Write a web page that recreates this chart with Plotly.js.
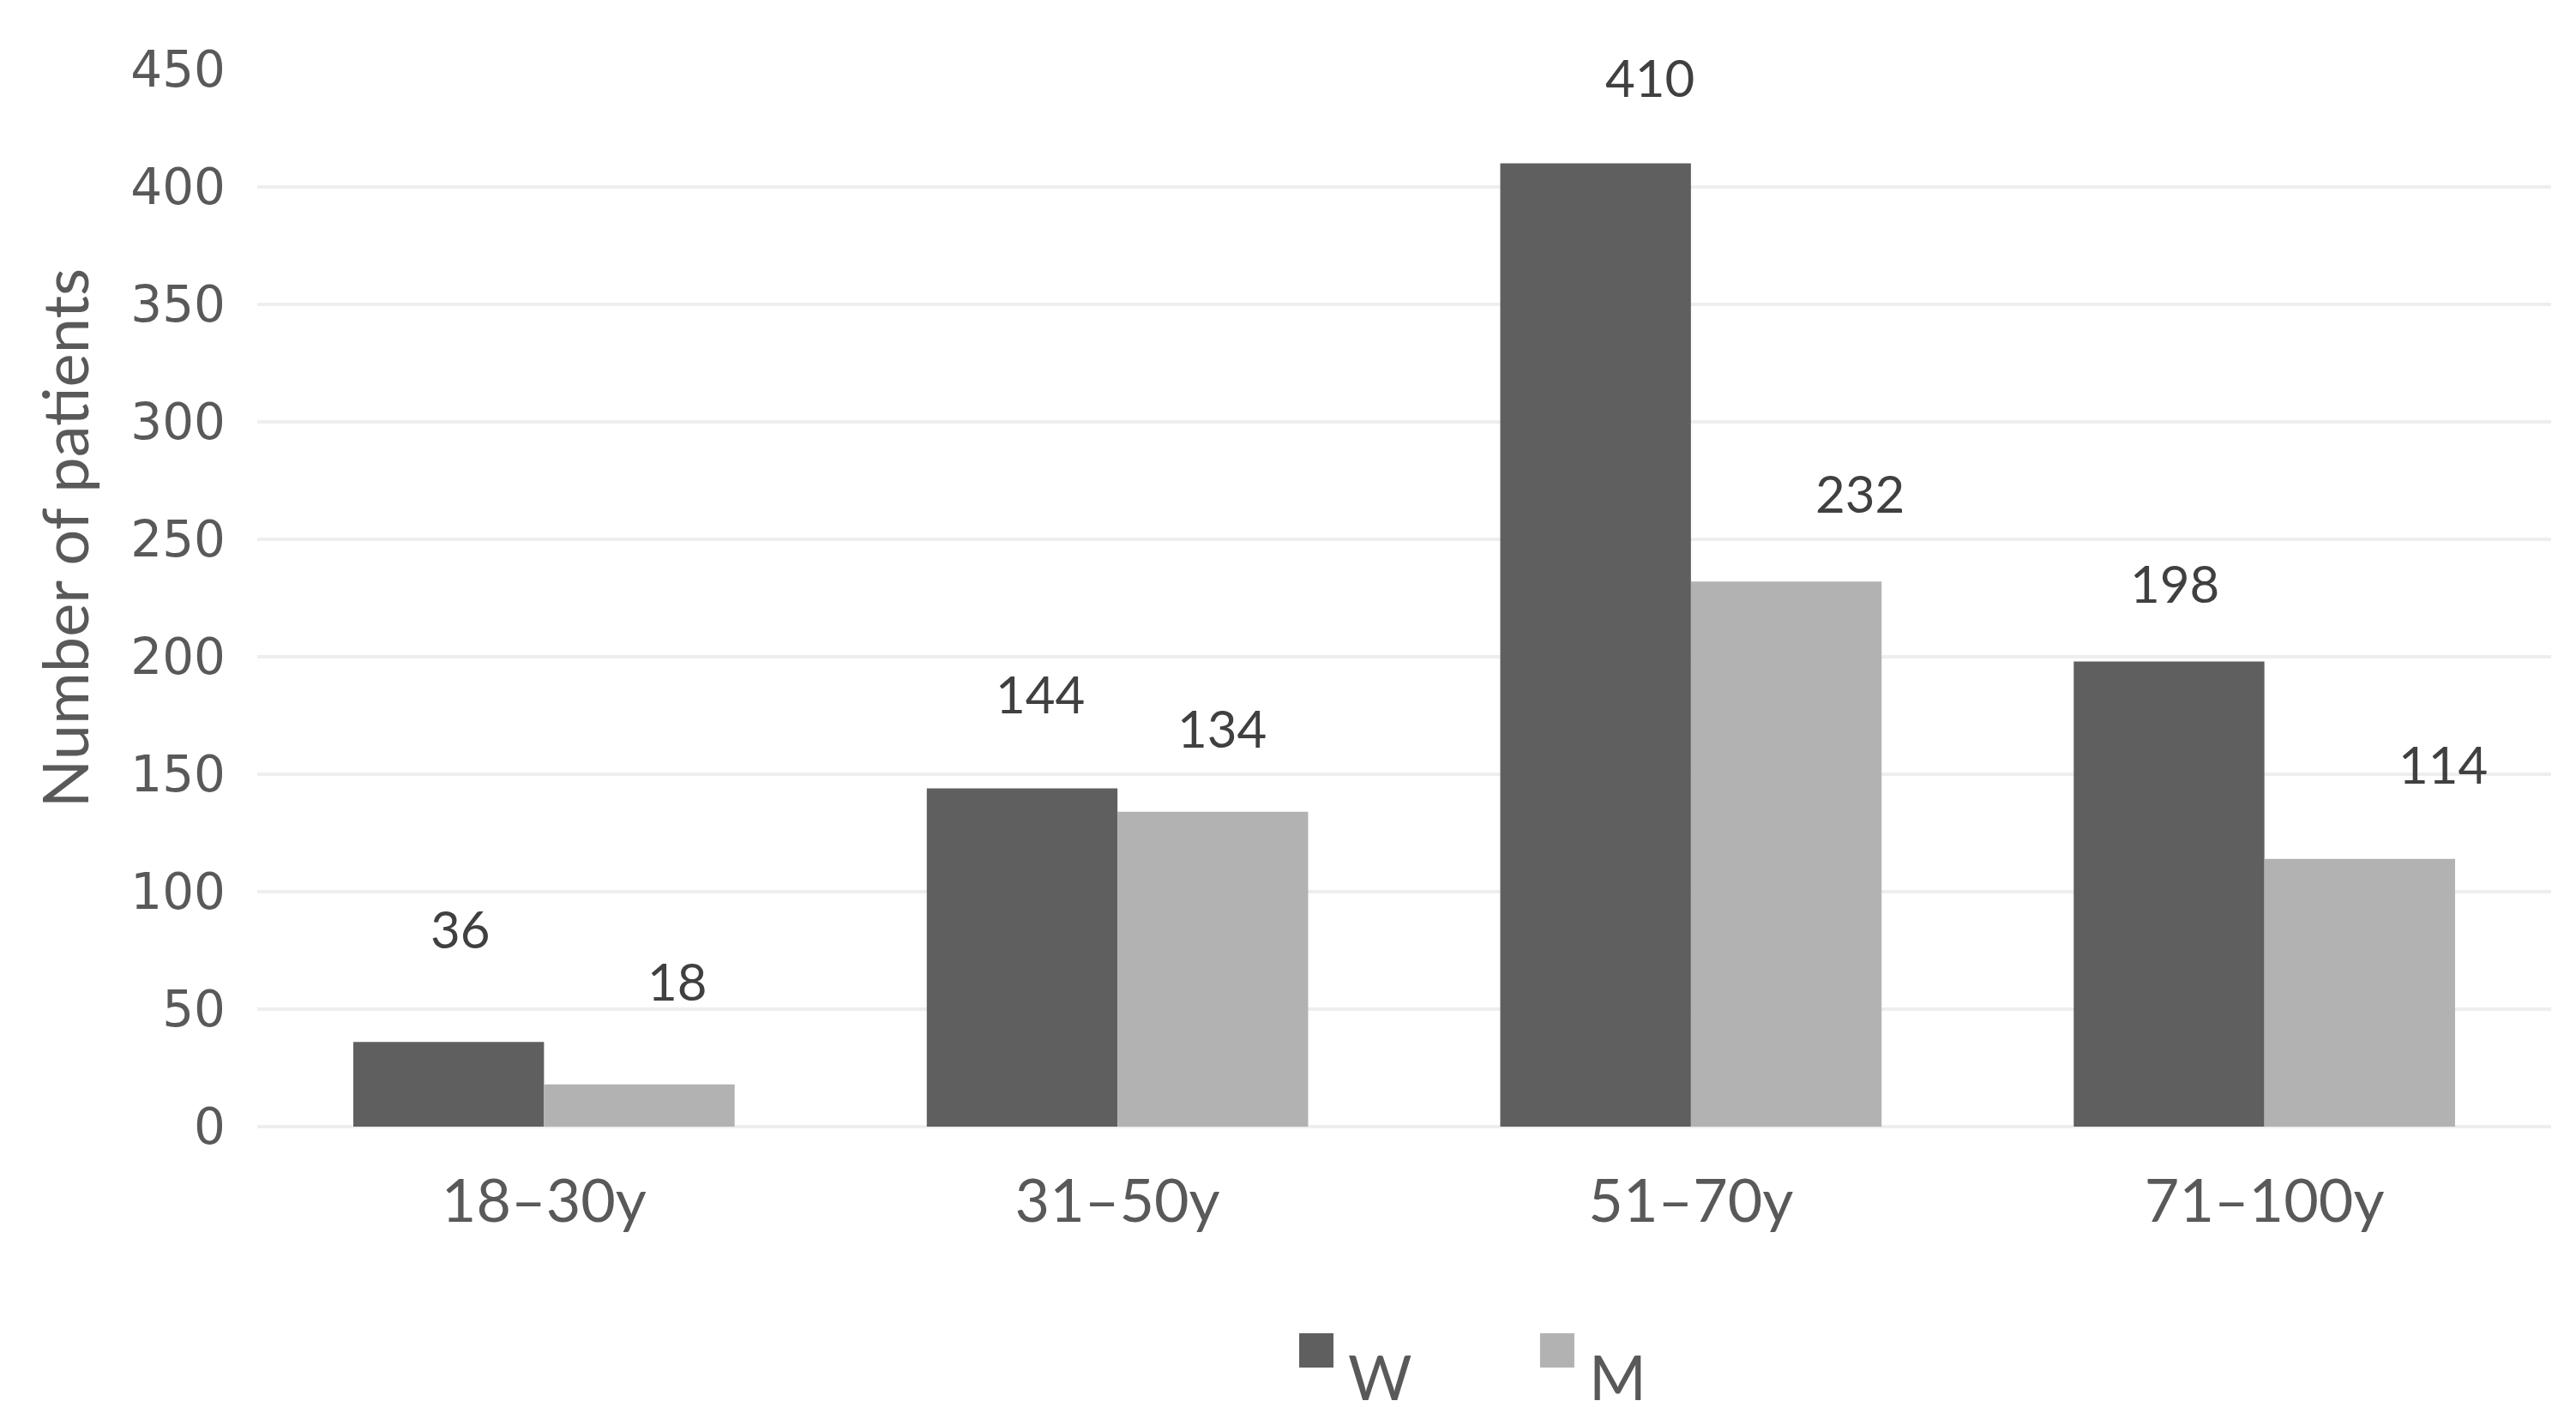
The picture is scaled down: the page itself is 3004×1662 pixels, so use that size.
<!DOCTYPE html>
<html>
<head>
<meta charset="utf-8">
<script src="https://cdn.plot.ly/plotly-3.0.1.min.js"></script>
<style>html,body{margin:0;padding:0;background:#fff;}#chart{width:3004px;height:1662px;}</style>
</head>
<body>
<div id="chart"></div>
<script>
// ---- data ----
const categories = ["18\u201330y", "31\u201350y", "51\u201370y", "71\u2013100y"];
const seriesNames = ["W", "M"];
const womenValues = [36, 144, 410, 198];
const menValues = [18, 134, 232, 114];
const yTickValues = [0, 50, 100, 150, 200, 250, 300, 350, 400, 450];

// ---- styling (layout only) ----
const colors = ["#5f5f5f", "#b2b2b2"];
const textGray = "#595959";
const bargap = 0.335;
const halfBar = (1 - bargap) / 4;   // centre offset of each bar within a category
// hand-placed label nudges seen in the original (pixels)
const labelNudgeX = [[14, 21, 63, 7], [44, 11, 86, 97]];
const labelNudgeY = [[132, 110, 101, 91], [121, 98, 103, 111]];

const allValues = [womenValues, menValues];

const traces = allValues.map((vals, s) => ({
  type: "bar",
  name: seriesNames[s],
  x: categories,
  y: vals,
  marker: { color: colors[s], line: { width: 0 } },
  showlegend: false,
  hoverinfo: "x+y+name"
}));

const annotations = [];
allValues.forEach((vals, s) => {
  vals.forEach((v, i) => {
    annotations.push({
      x: i + (s === 0 ? -halfBar : halfBar),
      y: v,
      xref: "x", yref: "y",
      text: String(v),
      showarrow: false,
      xanchor: "center", yanchor: "middle",
      xshift: labelNudgeX[s][i],
      yshift: labelNudgeY[s][i],
      font: { family: "Lato, 'Open Sans', sans-serif", size: 60, color: "#404040" }
    });
  });
});

// y-axis title (placed as in the original, slightly above centre)
annotations.push({
  xref: "paper", yref: "paper",
  x: -0.0845, y: 0.557,
  text: "Number of patients",
  textangle: -90,
  showarrow: false,
  xanchor: "center", yanchor: "middle",
  font: { family: "Lato, 'Open Sans', sans-serif", size: 74, color: textGray }
});

// manual legend (large swatches like the original)
const legendSwatchX = [0.4617, 0.5667];
const legendTextX = [0.4897, 0.5929];
const shapes = [];
seriesNames.forEach((n, s) => {
  shapes.push({
    type: "rect",
    xref: "paper", yref: "paper",
    xsizemode: "pixel", ysizemode: "pixel",
    xanchor: legendSwatchX[s], yanchor: -0.2117,
    x0: -20, x1: 20, y0: -20, y1: 20,
    fillcolor: colors[s], line: { width: 0 }
  });
  annotations.push({
    xref: "paper", yref: "paper",
    x: legendTextX[s], y: -0.236,
    text: n, showarrow: false,
    xanchor: "center", yanchor: "middle",
    font: { family: "Lato, 'Open Sans', sans-serif", size: 72, color: textGray }
  });
});

const layout = {
  width: 3004,
  height: 1662,
  margin: { l: 300, r: 29, t: 81, b: 348, pad: 0 },
  paper_bgcolor: "#ffffff",
  plot_bgcolor: "#ffffff",
  barmode: "group",
  bargap: bargap,
  bargroupgap: 0,
  showlegend: false,
  xaxis: {
    type: "category",
    showgrid: false,
    showline: false,
    zeroline: false,
    ticks: "",
    ticklabelstandoff: 40,
    tickfont: { family: "Lato, 'Open Sans', sans-serif", size: 70, color: textGray }
  },
  yaxis: {
    range: [0, 450],
    tickvals: yTickValues,
    ticktext: yTickValues.map(String),
    showgrid: true,
    gridcolor: "#eeeeee",
    gridwidth: 4,
    zeroline: true,
    zerolinecolor: "#eeeeee",
    zerolinewidth: 4,
    showline: false,
    ticks: "",
    ticklabelstandoff: 36,
    tickfont: { family: "'DejaVu Sans', Verdana, sans-serif", size: 58, color: textGray }
  },
  shapes: shapes,
  annotations: annotations
};

Plotly.newPlot("chart", traces, layout, { staticPlot: true, displayModeBar: false });
</script>
</body>
</html>
